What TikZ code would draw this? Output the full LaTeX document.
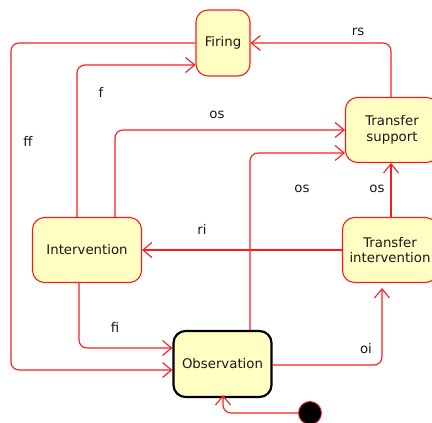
\documentclass[tikz,border=0pt]{standalone}
\usepackage{fontspec}
\setmainfont{DejaVu Sans}
\usepackage{tikz}
\usetikzlibrary{arrows.meta}
\definecolor{cline}{HTML}{FF1A1A}
\definecolor{cfill}{HTML}{FFFFC4}

\begin{document}
\begin{tikzpicture}[x=1pt, y=-1pt, font=\fontsize{13.3}{15.5}\selectfont,
    state/.style={draw=cline, fill=cfill, rounded corners=12pt, line width=1.1pt,
      align=center, inner sep=0pt, text=black!90},
    flow/.style={draw=cline, line width=1.1pt, rounded corners=8pt,
      -{Straight Barb[length=9pt,width=15pt]}},
    lbl/.style={text=black!90, inner sep=1pt}]
  \useasboundingbox (0,0) rectangle (432,423);
  % states
  \node[state, minimum width=54pt, minimum height=66pt] (fire) at (223,43) {Firing};
  \node[state, minimum width=93pt, minimum height=65pt] (sup) at (392,130) {Transfer\\support};
  \node[state, minimum width=95pt, minimum height=65pt] (tint) at (390,250) {Transfer\\intervention};
  \node[state, minimum width=109pt, minimum height=65pt] (int) at (87,250) {Intervention};
  \node[state, draw=black, line width=2.2pt, minimum width=98pt, minimum height=66pt]
    (obs) at (222.5,364) {Observation};
  % initial state
  \node[circle, fill=black, draw=cline, thick, minimum size=23pt, inner sep=0pt] (start) at (310,413) {};
  % transitions
  \draw[flow] (fire.west) -| (11,370) -- (obs.west |- 0,370);
  \draw[flow] (int.north -| 77,0) |- (fire.west |- 0,65);
  \draw[flow] (int.north -| 115,0) |- (sup.west |- 0,130);
  \draw[flow] (obs.north -| 250,0) |- (sup.west |- 0,153);
  \draw[flow] (tint.north -| 391,0) -- (sup.south -| 391,0);
  \draw[flow] (sup.north -| 391,0) |- (fire.east);
  \draw[flow] (tint.west) -- (int.east);
  \draw[flow] (int.south -| 79,0) |- (obs.west |- 0,348);
  \draw[flow, shorten >=5pt] (obs.east |- 0,365) -| (tint.south -| 382,0);
  \draw[flow, shorten >=-3pt] (start.west) -| (obs.south -| 223,0);
  % labels
  \node[lbl] (lff) at (28,141) {ff};
  \node[lbl] (lf) at (101,92) {f};
  \node[lbl] (los1) at (217,115) {os};
  \node[lbl] (los2) at (302,189) {os};
  \node[lbl] (los3) at (377,189) {os};
  \node[lbl] (lrs) at (358,32) {rs};
  \node[lbl] (lri) at (202,229) {ri};
  \node[lbl] (lfi) at (115,327) {fi};
  \node[lbl] (loi) at (366,349) {oi};
\end{tikzpicture}
\end{document}
